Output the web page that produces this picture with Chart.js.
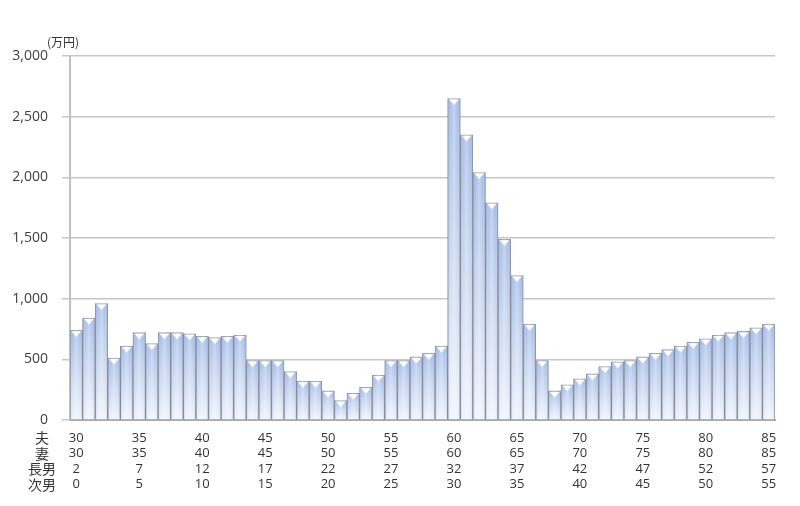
<!DOCTYPE html>
<html>
<head>
<meta charset="utf-8">
<script src="https://cdn.jsdelivr.net/npm/chart.js@4.4.1/dist/chart.umd.min.js"></script>
<style>
body { margin: 0; background: #fff; }
#wrap { width: 800px; height: 506px; }
</style>
</head>
<body>
<div id="wrap"><canvas id="barCanvas"></canvas></div>
<script>
// husband's age for each bar (one bar per year)
var husbandAges = [30, 31, 32, 33, 34, 35, 36, 37, 38, 39, 40, 41, 42, 43, 44, 45, 46, 47, 48, 49,
  50, 51, 52, 53, 54, 55, 56, 57, 58, 59, 60, 61, 62, 63, 64, 65, 66, 67, 68, 69,
  70, 71, 72, 73, 74, 75, 76, 77, 78, 79, 80, 81, 82, 83, 84, 85];
// savings balance (万円)
var balance = [740, 840, 960, 510, 610, 720, 630, 720, 720, 710, 690, 680, 690, 700, 490, 490, 490, 400, 320, 320,
  240, 160, 220, 270, 370, 490, 490, 520, 550, 610, 2650, 2350, 2040, 1790, 1490, 1190, 790, 490, 240, 290,
  340, 380, 440, 480, 490, 520, 550, 580, 610, 640, 670, 700, 720, 730, 760, 790];

// tick label rows, shown every 5 years
var husbandTicks = [30, 35, 40, 45, 50, 55, 60, 65, 70, 75, 80, 85];
var wifeTicks = [30, 35, 40, 45, 50, 55, 60, 65, 70, 75, 80, 85];
var eldestTicks = [2, 7, 12, 17, 22, 27, 32, 37, 42, 47, 52, 57];
var secondTicks = [0, 5, 10, 15, 20, 25, 30, 35, 40, 45, 50, 55];
var rowNames = ["夫", "妻", "長男", "次男"];
var unitLabel = "(万円)";

var cjkFont = "'Noto Sans CJK JP', sans-serif";
var numFont = "'Open Sans', 'Noto Sans', sans-serif";

var decorate = {
  id: "decorate",
  afterDatasetsDraw: function(chart) {
    var ctx = chart.ctx;
    var meta = chart.getDatasetMeta(0);
    ctx.save();
    meta.data.forEach(function(bar) {
      var p = bar.getProps(["x", "y", "base", "width"], true);
      var l = p.x - p.width / 2, r = p.x + p.width / 2;
      // rounded side shading
      var g = ctx.createLinearGradient(l, 0, r, 0);
      g.addColorStop(0, "rgba(90,100,125,0.4)");
      g.addColorStop(0.2, "rgba(255,255,255,0)");
      g.addColorStop(0.5, "rgba(255,255,255,0.3)");
      g.addColorStop(0.8, "rgba(255,255,255,0)");
      g.addColorStop(1, "rgba(90,100,125,0.4)");
      ctx.fillStyle = g;
      ctx.fillRect(l, p.y, p.width, p.base - p.y);
      // top bevel
      ctx.beginPath();
      ctx.moveTo(l + 1.5, p.y + 1);
      ctx.lineTo(r - 1.5, p.y + 1);
      ctx.lineTo(p.x, p.y + 6.5);
      ctx.closePath();
      ctx.fillStyle = "#ffffff";
      ctx.fill();
    });
    ctx.restore();
  },
  afterDraw: function(chart) {
    var ctx = chart.ctx;
    var x = chart.scales.x;
    ctx.save();
    ctx.fillStyle = "#333";
    ctx.font = "14px " + cjkFont;
    ctx.textAlign = "center";
    ctx.textBaseline = "middle";
    var top = x.top + 10 + 7.8;
    rowNames.forEach(function(name, i) {
      ctx.fillText(name, 42, top + i * 15.6);
    });
    ctx.font = "12px " + cjkFont;
    ctx.fillText(unitLabel, 63, 42);
    ctx.restore();
  }
};

new Chart("barCanvas", {
  type: "bar",
  data: {
    labels: husbandAges,
    datasets: [{
      data: balance,
      backgroundColor: function(c) {
        var chart = c.chart, a = chart.chartArea;
        if (!a || !chart.scales.y) return "#c5d4f0";
        var top = chart.scales.y.getPixelForValue(c.raw);
        var g = chart.ctx.createLinearGradient(0, top, 0, a.bottom);
        g.addColorStop(0, "#a8bee8");
        g.addColorStop(1, "#f0f4fc");
        return g;
      },
      borderColor: "#979dab",
      borderWidth: 1,
      barPercentage: 1,
      categoryPercentage: 1
    }]
  },
  options: {
    responsive: true,
    maintainAspectRatio: false,
    animation: false,
    layout: {padding: {left: 0, right: 25, top: 56, bottom: 0}},
    plugins: {
      legend: {display: false},
      tooltip: {enabled: false}
    },
    scales: {
      x: {
        afterFit: function(s) { s.height = 86; },
        grid: {display: false, drawTicks: false, tickLength: 0},
        border: {display: true, color: "#a9a9a9", width: 2},
        ticks: {
          autoSkip: false,
          maxRotation: 0,
          minRotation: 0,
          padding: 10,
          color: "#333",
          font: {family: numFont, size: 13, lineHeight: 1.2},
          callback: function(val, index) {
            var k = husbandTicks.indexOf(husbandAges[index]);
            if (k < 0) return "";
            return [String(husbandTicks[k]), String(wifeTicks[k]), String(eldestTicks[k]), String(secondTicks[k])];
          }
        }
      },
      y: {
        min: 0,
        max: 3000,
        afterFit: function(s) { s.width = 70; },
        grid: {color: "#c6c6c6", lineWidth: 1.5, tickLength: 8},
        border: {display: true, color: "#c0c0c0", width: 2},
        ticks: {
          stepSize: 500,
          padding: 14,
          color: "#404040",
          font: {family: numFont, size: 14},
          callback: function(v) { return v.toLocaleString("en-US"); }
        }
      }
    }
  },
  plugins: [decorate]
});
</script>
</body>
</html>
